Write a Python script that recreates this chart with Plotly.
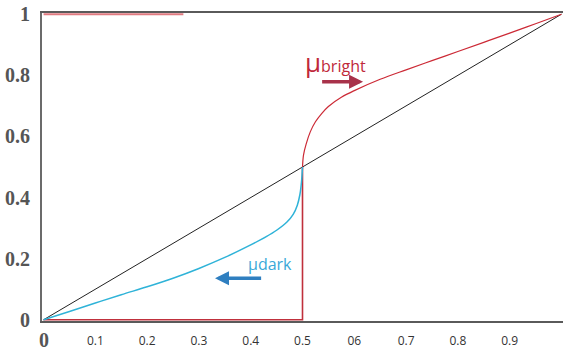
import plotly.graph_objects as go

# ---- data ----
diag_x = [0, 1]
diag_y = [0, 1]

dark_x = [0, 0.05, 0.1, 0.15, 0.2, 0.25, 0.3, 0.35, 0.4, 0.43, 0.45, 0.47, 0.482, 0.49, 0.495, 0.498, 0.5]
dark_y = [0, 0.027, 0.055, 0.082, 0.108, 0.136, 0.168, 0.204, 0.245, 0.272, 0.293, 0.32, 0.345, 0.375, 0.41, 0.45, 0.5]

bright_step_x = [0, 0.5, 0.5]
bright_step_y = [0, 0, 0.5]

bright_x = [0.5, 0.502, 0.507, 0.515, 0.525, 0.537, 0.55, 0.575, 0.6, 0.65, 0.7, 0.75, 0.8, 0.85, 0.9, 0.95, 1.0]
bright_y = [0.5, 0.54, 0.575, 0.615, 0.648, 0.675, 0.698, 0.728, 0.75, 0.787, 0.818, 0.848, 0.878, 0.908, 0.938, 0.969, 1.0]

top_red_x = [0, 0.27]
top_red_y = [1, 1]

x_tick_vals = [0.1, 0.2, 0.3, 0.4, 0.5, 0.6, 0.7, 0.8, 0.9]
x_tick_text = ["0.1", "0.2", "0.3", "0.4", "0.5", "06", "0.7", "0.8", "0.9"]
y_tick_vals = [0, 0.2, 0.4, 0.6, 0.8, 1]
y_tick_text = ["0", "0.2", "0.4", "0.6", "0.8", "1"]

RED = "#cc2a36"
CYAN = "#2fb3d8"

fig = go.Figure()
fig.add_trace(go.Scatter(x=top_red_x, y=top_red_y, mode="lines",
                         line=dict(color="#e07a80", width=2), hoverinfo="skip"))
fig.add_trace(go.Scatter(x=diag_x, y=diag_y, mode="lines",
                         line=dict(color="#222222", width=1), hoverinfo="skip"))
fig.add_trace(go.Scatter(x=bright_step_x, y=bright_step_y, mode="lines",
                         line=dict(color="#c0303c", width=1.6), hoverinfo="skip"))
fig.add_trace(go.Scatter(x=bright_x, y=bright_y, mode="lines", line_shape="spline",
                         line=dict(color=RED, width=1.2), hoverinfo="skip"))
fig.add_trace(go.Scatter(x=dark_x, y=dark_y, mode="lines", line_shape="spline",
                         line=dict(color=CYAN, width=1.5), hoverinfo="skip"))

annotations = [
    dict(x=0.563, y=0.845, xref="x", yref="y", showarrow=False,
         text="<span style='font-size:26px'>μ</span>bright",
         font=dict(family="Open Sans", size=16, color="#c0283a")),
    dict(x=0.617, y=0.779, ax=0.535, ay=0.779, xref="x", yref="y", axref="x", ayref="y",
         text="", showarrow=True, arrowhead=2, arrowsize=0.8, arrowwidth=3.5, arrowcolor="#a8324a"),
    dict(x=0.437, y=0.182, xref="x", yref="y", showarrow=False,
         text="µdark",
         font=dict(family="Open Sans", size=16, color="#3aa8d8")),
    dict(x=0.331, y=0.136, ax=0.423, ay=0.136, xref="x", yref="y", axref="x", ayref="y",
         text="", showarrow=True, arrowhead=2, arrowsize=0.8, arrowwidth=3.5, arrowcolor="#2f7fc0"),
    dict(x=0, y=0, xref="x", yref="paper", yanchor="top", yshift=-6, showarrow=False,
         text="<b>0</b>", font=dict(family="Liberation Serif", size=20, color="#555555")),
]

fig.update_layout(
    width=566, height=352,
    margin=dict(l=42, r=3, t=11, b=31),
    paper_bgcolor="white", plot_bgcolor="white",
    showlegend=False,
    annotations=annotations,
    xaxis=dict(range=[-0.003, 1.003], showgrid=False, zeroline=False,
               showline=True, linecolor="#5a5a5a", linewidth=2, mirror=True,
               tickvals=x_tick_vals, ticktext=x_tick_text, ticks="",
               tickfont=dict(family="Open Sans", size=12, color="#333333"),
               ticklabelstandoff=8),
    yaxis=dict(range=[-0.004, 1.004], showgrid=False, zeroline=False,
               showline=True, linecolor="#6b6b6b", linewidth=2,
               tickvals=y_tick_vals, ticktext=y_tick_text, ticks="",
               tickfont=dict(family="Liberation Serif", size=20, color="#555555", weight="bold"),
               ticklabelstandoff=6),
)

fig.write_html("out.html", config={"displayModeBar": False},
               post_script="document.body.style.margin='0';")
